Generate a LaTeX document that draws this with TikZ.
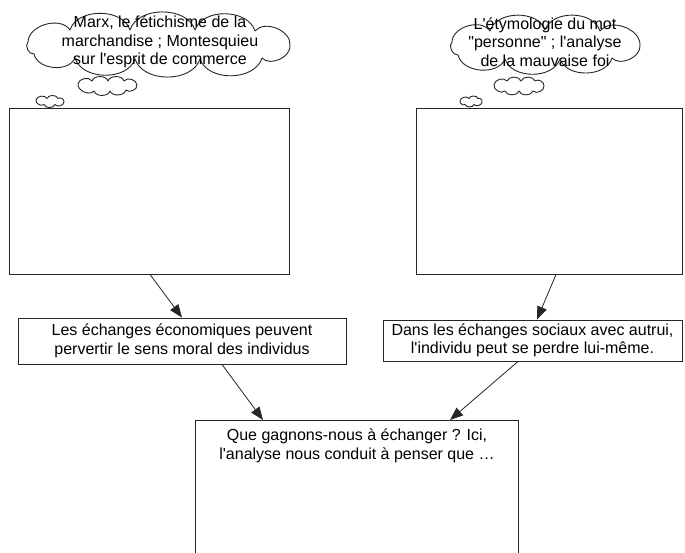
\documentclass[tikz,border=0pt]{standalone}
\usepackage{fontspec}
\setmainfont{Liberation Sans}[Ligatures=TeXOff]
\usetikzlibrary{arrows.meta}
\begin{document}
\begin{tikzpicture}[x=1pt,y=-1pt,
  box/.style={draw=black!85, line width=0.9pt, inner sep=0pt},
  txt/.style={font=\fontsize{16}{18.5}\selectfont, align=center, inner sep=0pt},
  cloudline/.style={draw=black!85, line width=0.9pt, line join=round},
  puffto/.style={bend left=72},
  link/.style={draw=black!85, line width=0.8pt, -{Triangle[length=13pt,width=10pt]}}]
\useasboundingbox (0,0) rectangle (685,553);
\clip (0,0) rectangle (685,553);

% thought clouds, each outline is a ring of bulging arcs
\draw[cloudline] (28,42) to[puffto] (70,30) to[puffto] (130,30) to[puffto] (195,30)
  to[puffto] (255,31) to[puffto] (290,45) to[puffto] (262,58) to[puffto] (200,59)
  to[puffto] (135,59) to[puffto] (75,58) to[puffto] (34,54) to[puffto] (28,42);
\draw[cloudline] (78,84) to[puffto] (92,81) to[puffto] (108,81) to[puffto] (124,81)
  to[puffto] (137,85) to[puffto] (126,90) to[puffto] (110,91) to[puffto] (94,91)
  to[puffto] (78,84);
\draw[cloudline] (36,100) to[puffto] (47,98.5) to[puffto] (58,98.5) to[puffto] (64,102)
  to[puffto] (55,104.5) to[puffto] (44,104.5) to[puffto] (36,100);
\node[txt] (lct) at (160,42) {Marx, le fétichisme de la\\marchandise ; Montesquieu\\sur l'esprit de commerce};

\draw[cloudline] (452,42) to[puffto] (490,31) to[puffto] (545,30) to[puffto] (600,31)
  to[puffto] (640,45) to[puffto] (612,58) to[puffto] (560,59) to[puffto] (505,59)
  to[puffto] (458,55) to[puffto] (452,42);
\draw[cloudline] (494,85) to[puffto] (507,81) to[puffto] (521,81) to[puffto] (535,81)
  to[puffto] (544,86) to[puffto] (533,91) to[puffto] (519,91) to[puffto] (505,91)
  to[puffto] (494,85);
\draw[cloudline] (460,101) to[puffto] (469,98.5) to[puffto] (478,98.5) to[puffto] (482,102)
  to[puffto] (474,104.5) to[puffto] (465,104.5) to[puffto] (460,101);
\node[txt] (rct) at (545,42) {L'étymologie du mot\\"personne" ; l'analyse\\de la mauvaise foi};

% empty boxes
\node[box, minimum width=280pt, minimum height=166pt] (lbig) at (149,191) {};
\node[box, minimum width=266pt, minimum height=166pt] (rbig) at (549,191) {};

% middle statements
\node[box, minimum width=328pt, minimum height=46pt] (lmid) at (182,341) {};
\node[txt] (lmidt) at (182,341) {Les échanges économiques peuvent\\pervertir le sens moral des individus};
\node[box, minimum width=299pt, minimum height=41pt] (rmid) at (532.5,340.5) {};
\node[txt] (rmidt) at (532.5,340.5) {Dans les échanges sociaux avec autrui,\\l'individu peut se perdre lui-même.};

% conclusion box, open at the bottom of the page
\node[box, anchor=north, minimum width=323pt, minimum height=150pt] (bot) at (356.5,420) {};
\node[txt] (bott) at (357,446) {Que gagnons-nous à échanger ? Ici,\\l'analyse nous conduit à penser que …};

% connectors
\draw[link] ([xshift=1pt]lbig.south) -- (lmid.north);
\draw[link] ([xshift=7pt]rbig.south) -- ([xshift=4.5pt]rmid.north);
\draw[link] ([xshift=40pt]lmid.south) -- ([xshift=-93.5pt]bot.north);
\draw[link] ([xshift=-14.5pt]rmid.south) -- ([xshift=93.5pt]bot.north);
\end{tikzpicture}
\end{document}
